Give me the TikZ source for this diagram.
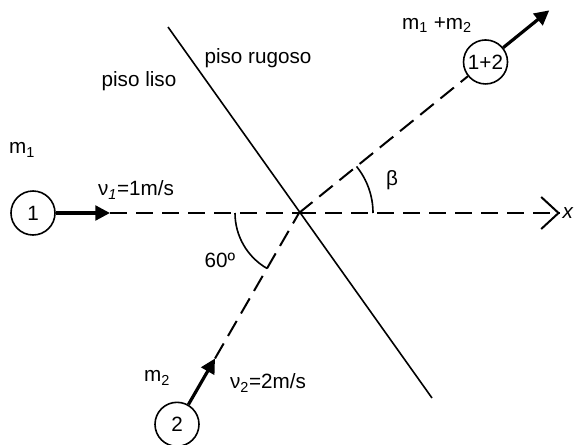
\documentclass[tikz,border=0pt]{standalone}
\usepackage{fontspec}
\setmainfont{Liberation Sans}
\usepackage{tikz}
\usetikzlibrary{arrows.meta,calc}

\begin{document}
\begin{tikzpicture}[
    x=0.75pt, y=0.75pt,
    font=\fontsize{15.5}{18}\selectfont,
    ball/.style={draw, circle, line width=1.2pt, minimum size=33pt, inner sep=0pt},
    path/.style={line width=1.5pt, dash pattern=on 13pt off 6.5pt},
    velocity/.style={line width=2.4pt, -{Triangle[length=11pt, width=11pt]}},
    floorline/.style={line width=1.2pt},
    anglearc/.style={line width=1.2pt}
]
\useasboundingbox (0,0) rectangle (577,444);
% origin of the collision
\coordinate (O) at (299,231);
\coordinate (xend) at (560,231);
\coordinate (vonetip) at (110,231);
\coordinate (vtwotip) at ($(O)+(240:168)$);
\coordinate (finaltip) at ($(O)+(39:322)$);
\coordinate (floortop) at (168,417);
\coordinate (floorbot) at (432,46);
% bodies
\node[ball] (one) at (33,231) {1};
\node[ball] (two) at ($(O)+(240:244)$) {2};
\node[ball] (both) at ($(O)+(39:240)$) {1+2};
% border between the floors
\draw[floorline] (floortop) -- (floorbot);
% trajectories
\draw[path] (vonetip) -- (O);
\draw[path] (O) -- (xend);
\draw[line width=1.5pt, -{Straight Barb[length=13pt, width=24pt]}] ($(xend)+(-2,0)$) -- ++(2,0);
\draw[path] (vtwotip) -- (O);
\draw[path] (O) -- (both);
% velocities
\draw[velocity] (one) -- (vonetip);
\draw[velocity] (two) -- (vtwotip);
\draw[velocity] (both) -- (finaltip);
% angles
\draw[anglearc] ($(O)+(180:64)$) arc[start angle=180, end angle=240, radius=64];
\draw[anglearc] ($(O)+(0:74)$) arc[start angle=0, end angle=39, radius=74];
% labels
\node (xlabel) at (568,231) {\textit{x}};
\node (beta) at (392,264) {β};
\node (sixty) at (220,184) {60º};
\node (liso) at (139,363) {piso liso};
\node (rugoso) at (258,386) {piso rugoso};
\node (mone) at (22,294) {m\textsubscript{1}};
\node (mtwo) at (157,66) {m\textsubscript{2}};
\node (mboth) at (437,419) {m\textsubscript{1} +m\textsubscript{2}};
\node (vone) at (136,254) {ν\textsubscript{\textit{1}}=1m/s};
\node (vtwo) at (268,61) {ν\textsubscript{2}=2m/s};
\end{tikzpicture}
\end{document}
